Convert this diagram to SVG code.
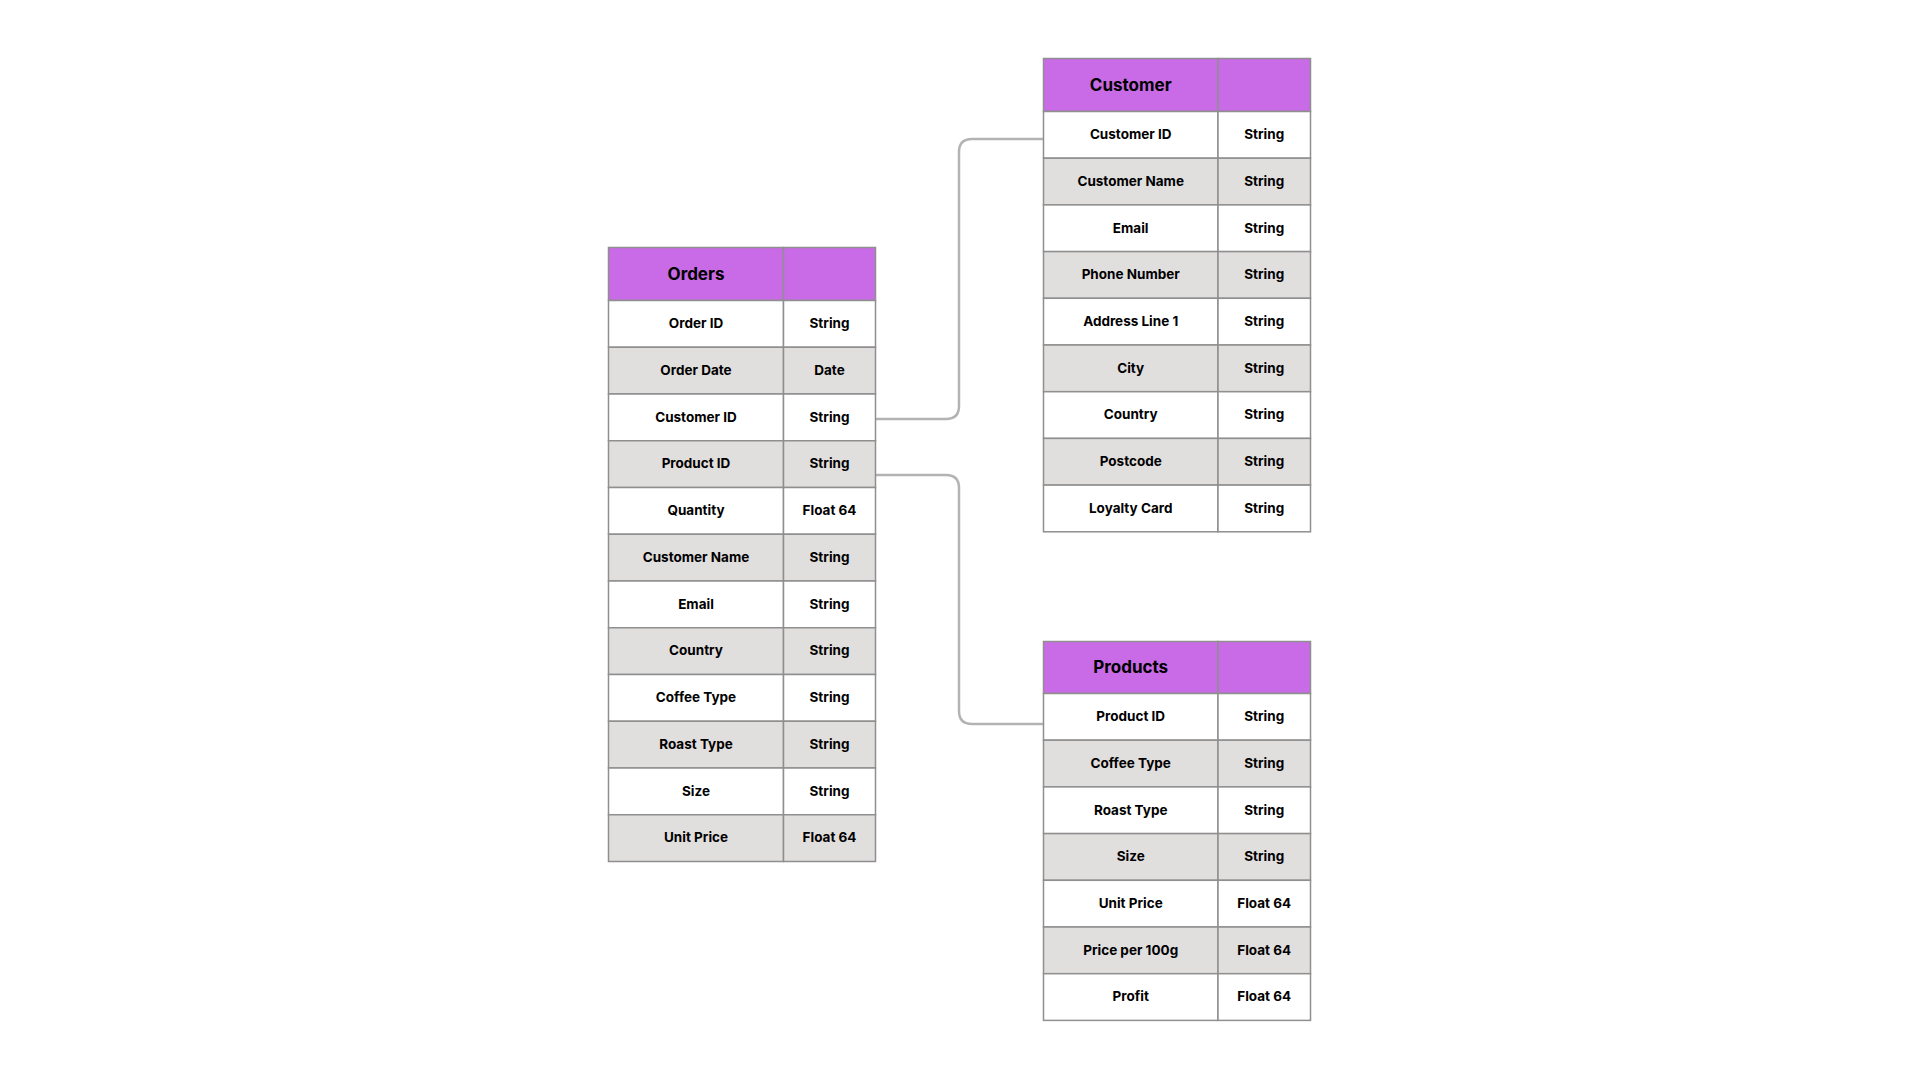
<svg xmlns="http://www.w3.org/2000/svg" width="1920" height="1080" viewBox="0 0 1920 1080">
<style>
.hd{fill:#c96ae6;stroke:#8f8f8f;stroke-width:1.5}
.w{fill:#ffffff;stroke:#8f8f8f;stroke-width:1.5}
.g{fill:#e1dede;stroke:#8f8f8f;stroke-width:1.5}
.ht{font-family:Inter,"Liberation Sans",sans-serif;font-weight:700;font-size:17px;fill:#000;text-anchor:middle;dominant-baseline:central}
.t{font-family:Inter,"Liberation Sans",sans-serif;font-weight:700;font-size:13.5px;fill:#000;text-anchor:middle;dominant-baseline:central}
.con{fill:none;stroke:#b3b3b3;stroke-width:2.5}
</style>
<rect width="1920" height="1080" fill="#ffffff"/>

<g id="connectors">
<path class="con" d="M875.5 419 H946 Q959 419 959 406 V152 Q959 139 972 139 H1043.5"/>
<path class="con" d="M875.5 475 H946 Q959 475 959 488 V711 Q959 724 972 724 H1043.5"/>
</g>

<g id="orders">
<rect class="hd" x="608.5" y="247.5" width="175" height="53"/>
<rect class="hd" x="783.5" y="247.5" width="92" height="53"/>
<text class="ht" x="696" y="273.5">Orders</text>
<g id="orders-rows">
<rect class="w" x="608.5" y="300.5" width="175" height="46.75"/><rect class="w" x="783.5" y="300.5" width="92" height="46.75"/>
<text class="t" x="696" y="323.1">Order ID</text><text class="t" x="829.5" y="323.1">String</text>
<rect class="g" x="608.5" y="347.25" width="175" height="46.75"/><rect class="g" x="783.5" y="347.25" width="92" height="46.75"/>
<text class="t" x="696" y="369.8">Order Date</text><text class="t" x="829.5" y="369.8">Date</text>
<rect class="w" x="608.5" y="394" width="175" height="46.75"/><rect class="w" x="783.5" y="394" width="92" height="46.75"/>
<text class="t" x="696" y="416.6">Customer ID</text><text class="t" x="829.5" y="416.6">String</text>
<rect class="g" x="608.5" y="440.75" width="175" height="46.75"/><rect class="g" x="783.5" y="440.75" width="92" height="46.75"/>
<text class="t" x="696" y="463.3">Product ID</text><text class="t" x="829.5" y="463.3">String</text>
<rect class="w" x="608.5" y="487.5" width="175" height="46.75"/><rect class="w" x="783.5" y="487.5" width="92" height="46.75"/>
<text class="t" x="696" y="510.1">Quantity</text><text class="t" x="829.5" y="510.1">Float 64</text>
<rect class="g" x="608.5" y="534.25" width="175" height="46.75"/><rect class="g" x="783.5" y="534.25" width="92" height="46.75"/>
<text class="t" x="696" y="556.8">Customer Name</text><text class="t" x="829.5" y="556.8">String</text>
<rect class="w" x="608.5" y="581" width="175" height="46.75"/><rect class="w" x="783.5" y="581" width="92" height="46.75"/>
<text class="t" x="696" y="603.6">Email</text><text class="t" x="829.5" y="603.6">String</text>
<rect class="g" x="608.5" y="627.75" width="175" height="46.75"/><rect class="g" x="783.5" y="627.75" width="92" height="46.75"/>
<text class="t" x="696" y="650.3">Country</text><text class="t" x="829.5" y="650.3">String</text>
<rect class="w" x="608.5" y="674.5" width="175" height="46.75"/><rect class="w" x="783.5" y="674.5" width="92" height="46.75"/>
<text class="t" x="696" y="697.1">Coffee Type</text><text class="t" x="829.5" y="697.1">String</text>
<rect class="g" x="608.5" y="721.25" width="175" height="46.75"/><rect class="g" x="783.5" y="721.25" width="92" height="46.75"/>
<text class="t" x="696" y="743.8">Roast Type</text><text class="t" x="829.5" y="743.8">String</text>
<rect class="w" x="608.5" y="768" width="175" height="46.75"/><rect class="w" x="783.5" y="768" width="92" height="46.75"/>
<text class="t" x="696" y="790.6">Size</text><text class="t" x="829.5" y="790.6">String</text>
<rect class="g" x="608.5" y="814.75" width="175" height="46.75"/><rect class="g" x="783.5" y="814.75" width="92" height="46.75"/>
<text class="t" x="696" y="837.3">Unit Price</text><text class="t" x="829.5" y="837.3">Float 64</text>
</g>
</g>

<g id="customer">
<rect class="hd" x="1043.5" y="58.5" width="174.5" height="53"/>
<rect class="hd" x="1218" y="58.5" width="92.5" height="53"/>
<text class="ht" x="1130.7" y="84.5">Customer</text>
<g id="customer-rows">
<rect class="w" x="1043.5" y="111.5" width="174.5" height="46.7"/><rect class="w" x="1218" y="111.5" width="92.5" height="46.7"/>
<text class="t" x="1130.7" y="134.1">Customer ID</text><text class="t" x="1264.2" y="134.1">String</text>
<rect class="g" x="1043.5" y="158.2" width="174.5" height="46.7"/><rect class="g" x="1218" y="158.2" width="92.5" height="46.7"/>
<text class="t" x="1130.7" y="180.8">Customer Name</text><text class="t" x="1264.2" y="180.8">String</text>
<rect class="w" x="1043.5" y="204.9" width="174.5" height="46.7"/><rect class="w" x="1218" y="204.9" width="92.5" height="46.7"/>
<text class="t" x="1130.7" y="227.5">Email</text><text class="t" x="1264.2" y="227.5">String</text>
<rect class="g" x="1043.5" y="251.6" width="174.5" height="46.7"/><rect class="g" x="1218" y="251.6" width="92.5" height="46.7"/>
<text class="t" x="1130.7" y="274.2">Phone Number</text><text class="t" x="1264.2" y="274.2">String</text>
<rect class="w" x="1043.5" y="298.3" width="174.5" height="46.7"/><rect class="w" x="1218" y="298.3" width="92.5" height="46.7"/>
<text class="t" x="1130.7" y="320.9">Address Line 1</text><text class="t" x="1264.2" y="320.9">String</text>
<rect class="g" x="1043.5" y="345" width="174.5" height="46.7"/><rect class="g" x="1218" y="345" width="92.5" height="46.7"/>
<text class="t" x="1130.7" y="367.6">City</text><text class="t" x="1264.2" y="367.6">String</text>
<rect class="w" x="1043.5" y="391.7" width="174.5" height="46.7"/><rect class="w" x="1218" y="391.7" width="92.5" height="46.7"/>
<text class="t" x="1130.7" y="414.3">Country</text><text class="t" x="1264.2" y="414.3">String</text>
<rect class="g" x="1043.5" y="438.4" width="174.5" height="46.7"/><rect class="g" x="1218" y="438.4" width="92.5" height="46.7"/>
<text class="t" x="1130.7" y="461">Postcode</text><text class="t" x="1264.2" y="461">String</text>
<rect class="w" x="1043.5" y="485.1" width="174.5" height="46.7"/><rect class="w" x="1218" y="485.1" width="92.5" height="46.7"/>
<text class="t" x="1130.7" y="507.7">Loyalty Card</text><text class="t" x="1264.2" y="507.7">String</text>
</g>
</g>

<g id="products">
<rect class="hd" x="1043.5" y="641.5" width="174.5" height="52"/>
<rect class="hd" x="1218" y="641.5" width="92.5" height="52"/>
<text class="ht" x="1130.7" y="667">Products</text>
<g id="products-rows">
<rect class="w" x="1043.5" y="693.5" width="174.5" height="46.7"/><rect class="w" x="1218" y="693.5" width="92.5" height="46.7"/>
<text class="t" x="1130.7" y="716.1">Product ID</text><text class="t" x="1264.2" y="716.1">String</text>
<rect class="g" x="1043.5" y="740.2" width="174.5" height="46.7"/><rect class="g" x="1218" y="740.2" width="92.5" height="46.7"/>
<text class="t" x="1130.7" y="762.8">Coffee Type</text><text class="t" x="1264.2" y="762.8">String</text>
<rect class="w" x="1043.5" y="786.9" width="174.5" height="46.7"/><rect class="w" x="1218" y="786.9" width="92.5" height="46.7"/>
<text class="t" x="1130.7" y="809.5">Roast Type</text><text class="t" x="1264.2" y="809.5">String</text>
<rect class="g" x="1043.5" y="833.6" width="174.5" height="46.7"/><rect class="g" x="1218" y="833.6" width="92.5" height="46.7"/>
<text class="t" x="1130.7" y="856.2">Size</text><text class="t" x="1264.2" y="856.2">String</text>
<rect class="w" x="1043.5" y="880.3" width="174.5" height="46.7"/><rect class="w" x="1218" y="880.3" width="92.5" height="46.7"/>
<text class="t" x="1130.7" y="902.9">Unit Price</text><text class="t" x="1264.2" y="902.9">Float 64</text>
<rect class="g" x="1043.5" y="927" width="174.5" height="46.7"/><rect class="g" x="1218" y="927" width="92.5" height="46.7"/>
<text class="t" x="1130.7" y="949.6">Price per 100g</text><text class="t" x="1264.2" y="949.6">Float 64</text>
<rect class="w" x="1043.5" y="973.7" width="174.5" height="46.7"/><rect class="w" x="1218" y="973.7" width="92.5" height="46.7"/>
<text class="t" x="1130.7" y="996.3">Profit</text><text class="t" x="1264.2" y="996.3">Float 64</text>
</g>
</g>
</svg>
